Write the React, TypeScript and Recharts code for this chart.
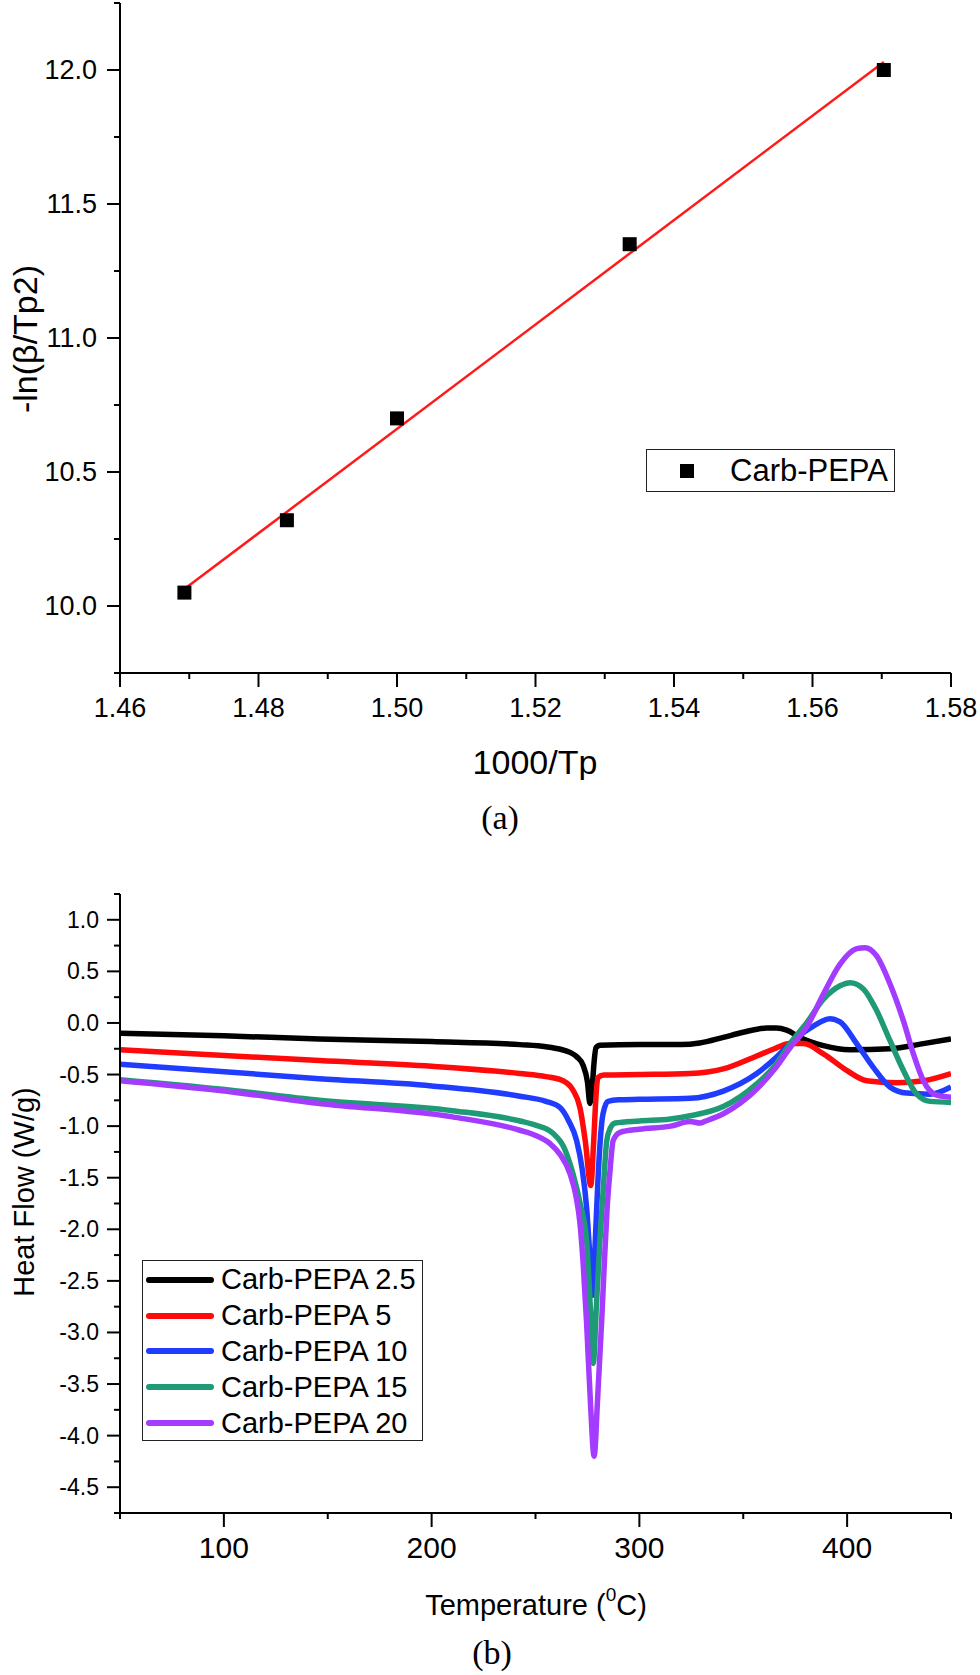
import { ComposedChart, LineChart, Line, Scatter, XAxis, YAxis, Legend, Label } from 'recharts'

const FONT = 'Arial, "Liberation Sans", Helvetica, sans-serif'
const SERIF = '"Times New Roman", "Liberation Serif", serif'

// ---- (a) -ln(beta/Tp^2) vs 1000/Tp ----
const kissXTicks = [1.46, 1.47, 1.48, 1.49, 1.5, 1.51, 1.52, 1.53, 1.54, 1.55, 1.56, 1.57, 1.58]
const kissYTicks = [9.75, 10, 10.25, 10.5, 10.75, 11, 11.25, 11.5, 11.75, 12, 12.25]
const kissX = [1.4693, 1.4841, 1.5, 1.5336, 1.5703]
const kissY = [10.05, 10.32, 10.7, 11.35, 12.0]
// linear fit, end points
const fitX = [1.4693, 1.5703]
const fitY = [10.063, 12.03]

const kissPoints = kissX.map((x, i) => ({ x, y: kissY[i] }))
const fitPoints = fitX.map((x, i) => ({ x, y: fitY[i] }))

// ---- (b) DSC heat flow ----
const dscXTicks = [50, 100, 150, 200, 250, 300, 350, 400, 450]
const dscYTicks = [
  -4.75, -4.5, -4.25, -4, -3.75, -3.5, -3.25, -3, -2.75, -2.5, -2.25, -2, -1.75, -1.5, -1.25, -1, -0.75, -0.5,
  -0.25, 0, 0.25, 0.5, 0.75, 1, 1.25,
]
const dscNames = ['Carb-PEPA 2.5', 'Carb-PEPA 5', 'Carb-PEPA 10', 'Carb-PEPA 15', 'Carb-PEPA 20']

const carb25: [number, number][] = [
  [50, -0.1], [100, -0.125], [146, -0.155], [200, -0.18], [242.5, -0.21], [255, -0.23], [262, -0.255],
  [266.6, -0.285], [270, -0.33], [272.9, -0.41], [275, -0.57], [276.2, -0.78], [277.3, -0.62], [278.2, -0.38],
  [279.1, -0.24], [281, -0.215], [300, -0.21], [320, -0.21], [329, -0.195], [340.4, -0.14], [350, -0.09],
  [361.3, -0.05], [366, -0.05], [370.9, -0.07], [377.3, -0.14], [388.6, -0.22], [401.4, -0.26], [420.6, -0.25],
  [436.7, -0.2], [450, -0.155],
]
const carb5: [number, number][] = [
  [50, -0.26], [146, -0.365], [200, -0.42], [242.5, -0.49], [255, -0.52], [263.2, -0.56], [268, -0.65],
  [271.4, -0.82], [274, -1.15], [276.6, -1.575], [278, -1.15], [279, -0.75], [280, -0.53], [283, -0.505],
  [300, -0.5], [324.4, -0.49], [340.4, -0.445], [356.5, -0.32], [365, -0.25], [372.5, -0.2], [379, -0.2],
  [388.6, -0.3], [399.8, -0.46], [409.4, -0.56], [423.8, -0.58], [436.7, -0.56], [450, -0.49],
]
const carb10: [number, number][] = [
  [50, -0.4], [146, -0.54], [200, -0.61], [242.5, -0.71], [255, -0.76], [261.8, -0.82], [266, -0.95],
  [269.8, -1.14], [272.5, -1.42], [274.6, -1.79], [276.3, -2.3], [277.5, -2.64], [278.8, -2.1], [280.2, -1.46],
  [282.5, -0.88], [284.9, -0.76], [290, -0.745], [300, -0.74], [324.4, -0.73], [340.4, -0.66], [356.5, -0.49],
  [365, -0.35], [372.5, -0.2], [383.8, -0.03], [391.8, 0.04], [396.6, 0.01], [404.6, -0.2], [412.6, -0.43],
  [420.6, -0.62], [428.7, -0.68], [439.9, -0.69], [450, -0.62],
]
const carb15: [number, number][] = [
  [50, -0.55], [98, -0.64], [146, -0.75], [210, -0.85], [242.5, -0.95], [250, -0.99], [258.4, -1.07],
  [264, -1.22], [268, -1.46], [271.5, -1.75], [274.6, -2.11], [276.5, -2.8], [277.8, -3.3], [279.3, -2.75],
  [281, -2.11], [282.8, -1.55], [284.3, -1.14], [286, -1.02], [288.3, -0.97], [300, -0.95], [315, -0.93],
  [324.4, -0.9], [340.4, -0.81], [356.5, -0.59], [365, -0.42], [372.5, -0.2], [380.5, 0], [388.6, 0.23],
  [396.6, 0.36], [401.4, 0.39], [407.8, 0.33], [414.2, 0.12], [420.6, -0.17], [427.1, -0.46], [433.5, -0.69],
  [439.9, -0.76], [450, -0.77],
]
const carb20: [number, number][] = [
  [50, -0.56], [98, -0.655], [146, -0.78], [210, -0.91], [242.5, -1.04], [250, -1.09], [257, -1.17],
  [262, -1.28], [266.6, -1.46], [269.5, -1.68], [271.4, -1.94], [273, -2.35], [274.6, -2.91], [276.5, -3.7],
  [278.2, -4.2], [280, -3.6], [281.8, -2.91], [283.2, -2.3], [284.5, -1.79], [286, -1.4], [287.4, -1.14],
  [290.7, -1.06], [300, -1.03], [315, -1.0], [324.4, -0.955], [329.2, -0.97], [332, -0.95], [340.4, -0.88],
  [356.5, -0.64], [365, -0.45], [372.5, -0.24], [380.5, -0.04], [388.6, 0.28], [396.6, 0.57], [404.6, 0.72],
  [408.6, 0.73], [414.2, 0.65], [420.6, 0.38], [427.1, 0.02], [431.9, -0.3], [436.7, -0.56], [443.1, -0.7],
  [450, -0.72],
]

const dscCurves = [carb25, carb5, carb10, carb15, carb20]
const LINE_COLORS = ['#000000', '#ff0a0a', '#1f3cff', '#1f9a76', '#a43cff']

const toRows = (pairs: [number, number][]) => pairs.map(([t, hf]) => ({ t, hf }))

// ---- axis tick helpers ----
function BottomTick(props: any) {
  const { x, y, payload, major, fontSize, labelOffset, format } = props
  const isMajor = major(payload.value)
  return (
    <g>
      <line x1={x} x2={x} y1={y} y2={y + (isMajor ? 14 : 6)} stroke="#000" strokeWidth={2} />
      {isMajor && (
        <text
          x={x}
          y={y + labelOffset}
          textAnchor="middle"
          dominantBaseline="central"
          fontSize={fontSize}
          fontFamily={FONT}
          fill="#000"
        >
          {format(payload.value)}
        </text>
      )}
    </g>
  )
}

function LeftTick(props: any) {
  const { x, y, payload, major, fontSize, labelOffset, format } = props
  const isMajor = major(payload.value)
  return (
    <g>
      <line x1={x} x2={x - (isMajor ? 13 : 6)} y1={y} y2={y} stroke="#000" strokeWidth={2} />
      {isMajor && (
        <text
          x={x - labelOffset}
          y={y}
          textAnchor="end"
          dominantBaseline="central"
          fontSize={fontSize}
          fontFamily={FONT}
          fill="#000"
        >
          {format(payload.value)}
        </text>
      )}
    </g>
  )
}

const axisLine = { stroke: '#000', strokeWidth: 2 }
const isHalf = (v: number) => Math.round(v * 100) % 50 === 0

function KissLegend(props: any) {
  const item = props.payload?.find((p: any) => p.value === 'Carb-PEPA')
  return (
    <div
      style={{
        width: 247,
        height: 41,
        border: '1px solid #222',
        background: '#fff',
        display: 'flex',
        alignItems: 'center',
        fontFamily: FONT,
        fontSize: 31,
      }}
    >
      <div style={{ width: 14, height: 14, background: '#000', marginLeft: 33 }} />
      <span style={{ marginLeft: 36, lineHeight: 1 }}>{item ? item.value : 'Carb-PEPA'}</span>
    </div>
  )
}

function DscLegend(props: any) {
  const items = (props.payload ?? [])
    .filter((p: any) => dscNames.includes(p.value))
    .sort((a: any, b: any) => dscNames.indexOf(a.value) - dscNames.indexOf(b.value))
  return (
    <div
      style={{
        width: 279,
        height: 178,
        border: '1px solid #222',
        background: '#fff',
        fontFamily: FONT,
        fontSize: 29,
        paddingTop: 1,
        boxSizing: 'content-box',
      }}
    >
      {items.map((it: any) => (
        <div key={it.value} style={{ height: 35.8, display: 'flex', alignItems: 'center' }}>
          <div style={{ width: 68, height: 6, borderRadius: 3, background: it.color, marginLeft: 3 }} />
          <span style={{ marginLeft: 7, lineHeight: 1, whiteSpace: 'nowrap' }}>{it.value}</span>
        </div>
      ))}
    </div>
  )
}

function KissingerChart() {
  return (
    <ComposedChart width={980} height={780} margin={{ top: 3, right: 29, bottom: 47, left: 0 }}>
      <XAxis
        dataKey="x"
        type="number"
        domain={[1.46, 1.58]}
        ticks={kissXTicks}
        interval={0}
        allowDataOverflow
        height={60}
        axisLine={axisLine}
        tickLine={false}
        tickSize={0}
        tickMargin={0}
        tick={(p: any) => (
          <BottomTick
            {...p}
            major={(v: number) => Math.round(v * 100) % 2 === 0}
            fontSize={27}
            labelOffset={35}
            format={(v: number) => v.toFixed(2)}
          />
        )}
      >
        <Label
          content={() => (
            <text x={535} y={762} textAnchor="middle" dominantBaseline="central" fontSize={34} fontFamily={FONT}>
              1000/Tp
            </text>
          )}
        />
      </XAxis>
      <XAxis xAxisId="top" orientation="top" type="number" domain={[1.46, 1.58]} height={0} axisLine={axisLine} tick={false} tickLine={false} />
      <YAxis
        dataKey="y"
        type="number"
        domain={[9.75, 12.25]}
        ticks={kissYTicks}
        interval={0}
        allowDataOverflow
        width={120}
        axisLine={axisLine}
        tickLine={false}
        tickSize={0}
        tickMargin={0}
        tick={(p: any) => (
          <LeftTick {...p} major={isHalf} fontSize={27} labelOffset={23} format={(v: number) => v.toFixed(1)} />
        )}
      >
        <Label
          content={() => (
            <text
              x={25}
              y={339}
              transform="rotate(-90 25 339)"
              textAnchor="middle"
              dominantBaseline="central"
              fontSize={34}
              fontFamily={FONT}
            >
              -ln(β/Tp2)
            </text>
          )}
        />
      </YAxis>
      <YAxis yAxisId="right" orientation="right" type="number" domain={[9.75, 12.25]} width={0} axisLine={axisLine} tick={false} tickLine={false} />
      <Line
        data={fitPoints}
        dataKey="y"
        type="linear"
        stroke="#ff1a1a"
        strokeWidth={2.5}
        dot={false}
        legendType="none"
        isAnimationActive={false}
      />
      <Scatter
        name="Carb-PEPA"
        data={kissPoints}
        dataKey="y"
        fill="#000"
        isAnimationActive={false}
        shape={(p: any) => <rect x={p.cx - 7} y={p.cy - 7} width={14} height={14} fill="#000" />}
      />
      <Legend
        layout="horizontal"
        verticalAlign="middle"
        align="center"
        content={(p: any) => <KissLegend {...p} />}
        wrapperStyle={{ left: 646, top: 449, width: 'auto' }}
      />
    </ComposedChart>
  )
}

function DscChart() {
  return (
    <LineChart width={980} height={815} margin={{ top: 34, right: 29, bottom: 102, left: 0 }}>
      <XAxis
        dataKey="t"
        type="number"
        domain={[50, 450]}
        ticks={dscXTicks}
        interval={0}
        allowDataOverflow
        height={60}
        axisLine={axisLine}
        tickLine={false}
        tickSize={0}
        tickMargin={0}
        tick={(p: any) => (
          <BottomTick
            {...p}
            major={(v: number) => v % 100 === 0}
            fontSize={30}
            labelOffset={34}
            format={(v: number) => String(v)}
          />
        )}
      >
        <Label
          content={() => (
            <text x={536} y={745} textAnchor="middle" dominantBaseline="central" fontSize={29} fontFamily={FONT}>
              Temperature (
              <tspan fontSize={19} dy={-11}>
                0
              </tspan>
              <tspan dy={11}>C)</tspan>
            </text>
          )}
        />
      </XAxis>
      <XAxis xAxisId="top" orientation="top" type="number" domain={[50, 450]} height={0} axisLine={axisLine} tick={false} tickLine={false} />
      <YAxis
        dataKey="hf"
        type="number"
        domain={[-4.75, 1.25]}
        ticks={dscYTicks}
        interval={0}
        allowDataOverflow
        width={120}
        axisLine={axisLine}
        tickLine={false}
        tickSize={0}
        tickMargin={0}
        tick={(p: any) => (
          <LeftTick {...p} major={isHalf} fontSize={23} labelOffset={21} format={(v: number) => v.toFixed(1)} />
        )}
      >
        <Label
          content={() => (
            <text
              x={24}
              y={332}
              transform="rotate(-90 24 332)"
              textAnchor="middle"
              dominantBaseline="central"
              fontSize={29}
              fontFamily={FONT}
            >
              Heat Flow (W/g)
            </text>
          )}
        />
      </YAxis>
      <YAxis yAxisId="right" orientation="right" type="number" domain={[-4.75, 1.25]} width={0} axisLine={axisLine} tick={false} tickLine={false} />
      {dscCurves.map((curve, i) => (
        <Line
          key={dscNames[i]}
          name={dscNames[i]}
          data={toRows(curve)}
          dataKey="hf"
          type="monotone"
          stroke={LINE_COLORS[i]}
          strokeWidth={5.5}
          strokeLinejoin="round"
          dot={false}
          isAnimationActive={false}
        />
      ))}
      <Legend
        layout="horizontal"
        verticalAlign="middle"
        align="center"
        itemSorter={null}
        content={(p: any) => <DscLegend {...p} />}
        wrapperStyle={{ left: 142, top: 400, width: 'auto' }}
      />
    </LineChart>
  )
}

export default function App() {
  return (
    <div style={{ position: 'absolute', left: 0, top: 0, width: 980, height: 1675, background: '#fff' }}>
      <div style={{ position: 'absolute', left: 0, top: 0 }}>
        <KissingerChart />
      </div>
      <div style={{ position: 'absolute', left: 480, top: 798, fontFamily: SERIF, fontSize: 34, lineHeight: '40px', width: 40, textAlign: 'center' }}>
        (a)
      </div>
      <div style={{ position: 'absolute', left: 0, top: 860 }}>
        <DscChart />
      </div>
      <div style={{ position: 'absolute', left: 472, top: 1633, fontFamily: SERIF, fontSize: 34, lineHeight: '40px', width: 40, textAlign: 'center' }}>
        (b)
      </div>
    </div>
  )
}
